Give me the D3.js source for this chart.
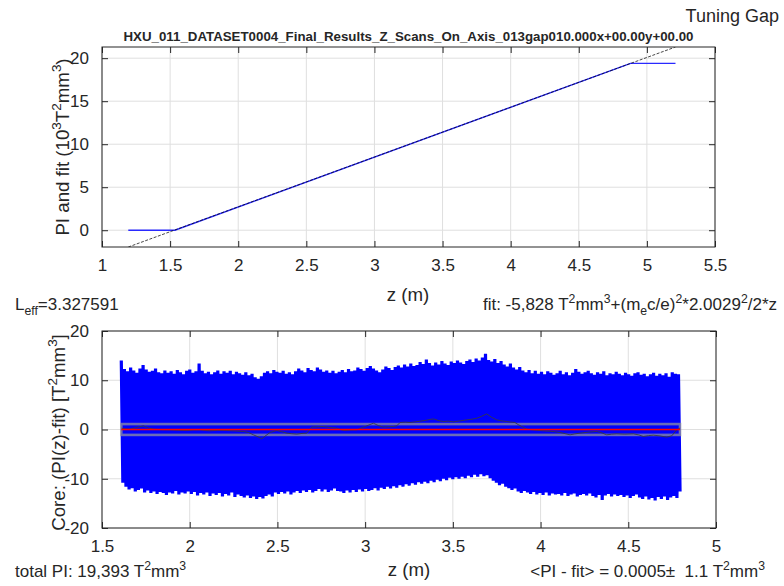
<!DOCTYPE html>
<html><head><meta charset="utf-8">
<script src="https://cdn.jsdelivr.net/npm/d3@7/dist/d3.min.js"></script>
<style>
body{margin:0;background:#fff}
text{font-family:"Liberation Sans",Arial,Helvetica,sans-serif;white-space:pre;fill:#262626}
</style>
</head><body>
<svg id="c" width="784" height="586"></svg>
<script>
// ---------------- data ----------------
const headerText = "Tuning Gap";
const titleText = "HXU_011_DATASET0004_Final_Results_Z_Scans_On_Axis_013gap010.000x+00.00y+00.00";
const leffLabel = ["L", "eff", "=3.327591"];

// top panel
const topXDomain = [1, 5.5];
const topYDomain = [-1.95, 21.3];
const topXTicks = [1, 1.5, 2, 2.5, 3, 3.5, 4, 4.5, 5, 5.5];
const topXTickLabels = ["1", "1.5", "2", "2.5", "3", "3.5", "4", "4.5", "5", "5.5"];
const topYTicks = [0, 5, 10, 15, 20];
const topYTickLabels = ["0", "5", "10", "15", "20"];
const piZ = [1.193, 1.535, 4.88, 5.21];
const piVal = [0, 0, 19.393, 19.393];
const fitZ = [1.193, 5.21];
const fitVal = [-1.95, 21.3];

// bottom panel
const botXDomain = [1.5, 5];
const botYDomain = [-20, 20];
const botXTicks = [1.5, 2, 2.5, 3, 3.5, 4, 4.5, 5];
const botXTickLabels = ["1.5", "2", "2.5", "3", "3.5", "4", "4.5", "5"];
const botYTicks = [-20, -10, 0, 10, 20];
const botYTickLabels = ["-20", "-10", "0", "10", "20"];
const spikeZRange = [1.61, 4.795];
const spikeTop = [
 14.0,12.3,11.8,12.6,12.0,11.5,12.4,13.1,12.2,11.7,
 11.9,12.4,11.6,11.4,12.0,11.5,11.8,11.3,12.1,11.6,
 11.2,11.9,12.2,11.5,11.8,13.4,11.9,11.4,11.7,11.2,
 11.6,12.0,11.3,11.8,11.5,11.9,11.2,11.7,11.4,11.1,
 11.6,11.0,11.3,10.6,10.3,10.8,11.5,11.8,11.4,12.1,
 11.7,11.5,11.9,11.3,11.6,11.2,11.8,12.4,12.0,11.6,
 12.5,12.1,11.8,12.6,12.2,11.7,12.0,11.5,11.9,11.4,
 11.7,12.1,11.6,12.3,11.8,12.0,12.6,12.3,11.9,12.5,
 12.9,12.4,12.0,11.6,12.2,12.8,12.5,12.1,12.7,13.0,
 12.6,13.2,12.8,13.4,12.9,13.1,13.7,13.3,14.2,13.5,
 13.0,13.6,13.2,13.9,13.4,13.1,13.8,13.5,14.0,13.6,
 13.3,13.9,14.2,13.7,14.4,14.0,14.6,15.4,14.1,13.8,
 14.3,13.5,13.9,13.2,12.8,13.4,12.6,12.2,12.7,12.0,
 11.6,12.1,11.4,11.9,11.3,11.7,11.2,11.8,11.5,11.1,
 11.4,11.9,11.2,11.6,11.0,11.5,12.3,11.7,11.3,11.6,
 11.9,11.4,11.1,11.6,11.3,11.8,11.0,11.4,11.2,11.7,
 11.3,11.0,11.5,11.2,10.9,11.4,11.6,11.1,11.3,10.8,
 11.2,11.5,10.9,11.3,11.0,11.4,10.7,11.6,11.3,11.2
];
const spikeBottom = [
 -10.8,-11.6,-12.2,-11.9,-12.6,-12.3,-12.0,-12.8,-12.4,-12.9,
 -12.6,-13.1,-12.7,-12.9,-13.3,-12.8,-13.0,-12.5,-13.2,-12.8,
 -13.0,-12.6,-13.1,-12.7,-13.4,-12.9,-13.2,-12.8,-13.5,-13.0,
 -13.3,-12.9,-13.6,-13.1,-13.4,-12.8,-13.7,-13.2,-13.5,-13.8,
 -13.4,-13.9,-13.6,-14.1,-13.7,-14.0,-13.5,-13.2,-13.6,-12.8,
 -13.1,-12.7,-13.0,-12.6,-13.2,-12.8,-12.5,-12.9,-12.4,-12.7,
 -12.3,-12.8,-12.5,-12.1,-12.6,-12.2,-12.7,-12.4,-12.0,-12.5,
 -12.6,-12.9,-12.4,-12.8,-12.3,-12.7,-12.2,-12.6,-12.1,-12.5,
 -12.3,-11.9,-12.4,-11.8,-12.1,-11.6,-12.0,-11.5,-11.8,-11.3,
 -11.6,-11.1,-11.4,-10.9,-11.2,-10.7,-11.0,-10.6,-10.9,-10.4,
 -10.7,-10.2,-10.5,-10.0,-10.3,-9.8,-10.1,-9.7,-10.0,-9.6,
 -9.9,-9.4,-9.7,-9.2,-9.6,-9.1,-9.5,-9.3,-9.9,-10.4,
 -10.8,-11.3,-11.0,-11.6,-11.9,-12.3,-12.0,-12.6,-12.9,-12.5,
 -12.8,-13.1,-12.7,-13.2,-12.9,-13.3,-12.8,-13.4,-13.0,-13.2,
 -13.1,-13.4,-12.9,-13.5,-13.2,-13.0,-13.6,-13.3,-13.1,-13.4,
 -13.0,-13.5,-13.8,-13.3,-14.3,-13.4,-13.1,-13.6,-13.2,-13.5,
 -13.3,-13.7,-13.4,-13.9,-13.5,-13.2,-13.8,-14.1,-13.6,-14.2,
 -13.9,-14.4,-13.7,-14.1,-13.6,-14.3,-13.8,-13.5,-13.9,-12.6
];
const avgZ = [1.612,1.636,1.660,1.700,1.736,1.765,1.793,1.840,1.888,1.935,1.983,2.020,2.059,2.090,2.116,2.160,2.211,2.260,2.306,2.335,2.363,2.390,2.410,2.435,2.458,2.496,2.525,2.553,2.580,2.610,2.640,2.667,2.696,2.730,2.762,2.800,2.838,2.876,2.915,2.952,3.000,3.047,3.075,3.104,3.130,3.161,3.180,3.199,3.230,3.256,3.285,3.313,3.350,3.389,3.420,3.446,3.475,3.503,3.540,3.579,3.610,3.636,3.665,3.693,3.720,3.750,3.780,3.807,3.830,3.854,3.872,3.892,3.921,3.960,3.997,4.025,4.054,4.080,4.111,4.140,4.168,4.195,4.225,4.270,4.320,4.350,4.377,4.405,4.434,4.480,4.529,4.560,4.586,4.615,4.643,4.680,4.719,4.748,4.776,4.795];
const avgVal = [0.27,0.10,0.07,0.45,0.74,0.30,0.07,-0.05,-0.07,-0.15,-0.20,-0.10,-0.07,-0.20,-0.27,-0.15,-0.20,-0.30,-0.40,-0.60,-1.08,-1.50,-1.89,-1.20,-0.61,-0.20,-0.45,-0.74,-0.85,-0.94,-0.80,-0.74,0.47,0.55,0.61,0.40,0.27,-0.20,-0.10,-0.07,0.60,1.28,0.80,0.47,0.55,0.61,0.74,1.42,1.50,1.42,1.55,1.69,1.90,2.16,1.80,1.62,1.70,1.55,1.75,1.96,2.10,2.29,2.70,3.17,2.50,1.96,1.75,1.62,1.50,1.42,1.00,0.61,0.07,-0.10,-0.20,-0.30,-0.34,-0.45,-0.61,-0.85,-1.08,-0.90,-0.74,-0.55,-0.40,-0.70,-1.08,-0.95,-0.88,-0.95,-0.88,-1.10,-1.42,-1.25,-1.15,-1.30,-1.55,-1.28,-0.07,0.30];
const meanResidual = 0.0005;
const sigmaResidual = 1.1;

// ---------------- drawing ----------------
const svg = d3.select("#c");
const FONT_TICK = 17, FONT_LABEL = 18.7, FONT_NOTE = 17;

function richText(t, segs, fs) {
  let state = "n";
  segs.forEach(([s, kind]) => {
    const sp = t.append("tspan").text(s);
    let dy = 0;
    const up = 0.42 * fs, down = 0.32 * fs;
    if (state === "sup") dy += up;
    if (state === "sub") dy -= down;
    if (kind === "sup") { dy -= up; sp.attr("font-size", fs * 0.72); }
    else if (kind === "sub") { dy += down; sp.attr("font-size", fs * 0.72); }
    if (dy !== 0) sp.attr("dy", dy);
    state = kind;
  });
  return t;
}

function panel(box, xDom, yDom, xT, xL, yT, yL) {
  const x = d3.scaleLinear().domain(xDom).range([box.l, box.r]);
  const y = d3.scaleLinear().domain(yDom).range([box.b, box.t]);
  const g = svg.append("g");
  g.append("g").selectAll("line").data(xT).join("line")
    .attr("x1", d => x(d)).attr("x2", d => x(d)).attr("y1", box.t).attr("y2", box.b)
    .attr("stroke", "#dfdfdf").attr("stroke-width", 1);
  g.append("g").selectAll("line").data(yT).join("line")
    .attr("y1", d => y(d)).attr("y2", d => y(d)).attr("x1", box.l).attr("x2", box.r)
    .attr("stroke", "#dfdfdf").attr("stroke-width", 1);
  const clipId = "clip" + Math.round(box.t);
  svg.append("clipPath").attr("id", clipId).append("rect")
    .attr("x", box.l).attr("y", box.t).attr("width", box.r - box.l).attr("height", box.b - box.t);
  const data = svg.append("g").attr("clip-path", `url(#${clipId})`);
  const frame = svg.append("g");
  const ax = (axis, tr) => frame.append("g").attr("transform", tr).call(axis)
      .call(s => s.select(".domain").remove())
      .call(s => s.selectAll(".tick line").attr("stroke", "#262626"));
  const bx = ax(d3.axisBottom(x).tickValues(xT).tickFormat((d, i) => xL[i]).tickSizeInner(-6).tickSizeOuter(0).tickPadding(12), `translate(0,${box.b})`);
  bx.selectAll("text").attr("font-size", FONT_TICK).attr("font-family", null).attr("fill", "#262626");
  ax(d3.axisTop(x).tickValues(xT).tickFormat("").tickSizeInner(-6).tickSizeOuter(0), `translate(0,${box.t})`);
  const ly = ax(d3.axisLeft(y).tickValues(yT).tickFormat((d, i) => yL[i]).tickSizeInner(-6).tickSizeOuter(0).tickPadding(13), `translate(${box.l},0)`);
  ly.selectAll("text").attr("font-size", FONT_TICK).attr("font-family", null).attr("fill", "#262626");
  ax(d3.axisRight(y).tickValues(yT).tickFormat("").tickSizeInner(-6).tickSizeOuter(0), `translate(${box.r},0)`);
  frame.append("rect").attr("x", box.l).attr("y", box.t).attr("width", box.r - box.l).attr("height", box.b - box.t)
    .attr("fill", "none").attr("stroke", "#262626").attr("stroke-width", 1);
  return {x, y, data};
}

// header texts
svg.append("text").attr("x", 779).attr("y", 22).attr("text-anchor", "end")
  .attr("font-size", 18).attr("fill", "#000").text(headerText);
svg.append("text").attr("x", 408.5).attr("y", 40.5).attr("text-anchor", "middle")
  .attr("font-size", 12.5).attr("font-weight", "bold").attr("fill", "#000")
  .attr("textLength", 570).attr("lengthAdjust", "spacingAndGlyphs").text(titleText);

// top panel
const P1 = panel({l: 102, r: 715, t: 47, b: 247}, topXDomain, topYDomain, topXTicks, topXTickLabels, topYTicks, topYTickLabels);
const line1 = d3.line().x(d => P1.x(d[0])).y(d => P1.y(d[1]));
P1.data.append("path").attr("d", line1(piZ.map((z, i) => [z, piVal[i]])))
  .attr("fill", "none").attr("stroke", "#2a2aff").attr("stroke-width", 1.3);
P1.data.append("path").attr("d", line1(fitZ.map((z, i) => [z, fitVal[i]])))
  .attr("fill", "none").attr("stroke", "#000").attr("stroke-width", 0.9).attr("stroke-opacity", 0.8)
  .attr("stroke-dasharray", "3,1.5");

// top labels
richText(svg.append("text").attr("transform", "translate(68.5,147) rotate(-90)")
  .attr("text-anchor", "middle").attr("font-size", FONT_LABEL),
  [["PI and fit (10", "n"], ["3", "sup"], ["T", "n"], ["2", "sup"], ["mm", "n"], ["3", "sup"], [")", "n"]], FONT_LABEL);
svg.append("text").attr("x", 408).attr("y", 301).attr("text-anchor", "middle")
  .attr("font-size", FONT_LABEL).text("z (m)");
richText(svg.append("text").attr("x", 15).attr("y", 310).attr("font-size", FONT_NOTE),
  [[leffLabel[0], "n"], [leffLabel[1], "sub"], [leffLabel[2], "n"]], FONT_NOTE);
richText(svg.append("text").attr("x", 777).attr("y", 310).attr("text-anchor", "end").attr("font-size", FONT_NOTE),
  [["fit: -5,828 T", "n"], ["2", "sup"], ["mm", "n"], ["3", "sup"], ["+(m", "n"], ["e", "sub"], ["c/e)", "n"],
   ["2", "sup"], ["*2.0029", "n"], ["2", "sup"], ["/2*z", "n"]], FONT_NOTE);

// bottom panel
const P2 = panel({l: 102, r: 716, t: 331, b: 528}, botXDomain, botYDomain, botXTicks, botXTickLabels, botYTicks, botYTickLabels);
const N = spikeTop.length;
const step = (spikeZRange[1] - spikeZRange[0]) / (N - 0.5);
const zig = [];
spikeTop.forEach((v, i) => {
  zig.push([spikeZRange[0] + i * step, v]);
  zig.push([spikeZRange[0] + (i + 0.5) * step, spikeBottom[i]]);
});
const line2 = d3.line().x(d => P2.x(d[0])).y(d => P2.y(d[1]));
P2.data.append("path").attr("d", line2(zig)).attr("fill", "none")
  .attr("stroke", "#0000ff").attr("stroke-width", 3.2).attr("stroke-linejoin", "bevel");
// sigma band
P2.data.append("rect")
  .attr("x", P2.x(spikeZRange[0])).attr("width", P2.x(spikeZRange[1]) - P2.x(spikeZRange[0]))
  .attr("y", P2.y(meanResidual + sigmaResidual)).attr("height", P2.y(meanResidual - sigmaResidual) - P2.y(meanResidual + sigmaResidual))
  .attr("fill", "none").attr("stroke", "#999999").attr("stroke-opacity", 0.7).attr("stroke-width", 2.6);
P2.data.append("path").attr("d", line2(avgZ.map((z, i) => [z, avgVal[i]])))
  .attr("fill", "none").attr("stroke", "#3a3a3a").attr("stroke-width", 1).attr("stroke-opacity", 0.85);
P2.data.append("path").attr("d", line2(spikeZRange.map(z => [z, meanResidual])))
  .attr("stroke", "#ff0000").attr("stroke-width", 1.6);

richText(svg.append("text").attr("transform", "translate(65,432.5) rotate(-90)")
  .attr("text-anchor", "middle").attr("font-size", FONT_LABEL),
  [["Core: (PI(z)-fit) [T", "n"], ["2", "sup"], ["mm", "n"], ["3", "sup"], ["]", "n"]], FONT_LABEL);
svg.append("text").attr("x", 409).attr("y", 576).attr("text-anchor", "middle")
  .attr("font-size", FONT_LABEL).text("z (m)");
richText(svg.append("text").attr("x", 15).attr("y", 577).attr("font-size", FONT_NOTE),
  [["total PI: 19,393 T", "n"], ["2", "sup"], ["mm", "n"], ["3", "sup"]], FONT_NOTE);
richText(svg.append("text").attr("x", 765).attr("y", 577).attr("text-anchor", "end").attr("font-size", FONT_NOTE),
  [["<PI - fit> = 0.0005\u00b1  1.1 T", "n"], ["2", "sup"], ["mm", "n"], ["3", "sup"]], FONT_NOTE);
</script>
</body></html>
